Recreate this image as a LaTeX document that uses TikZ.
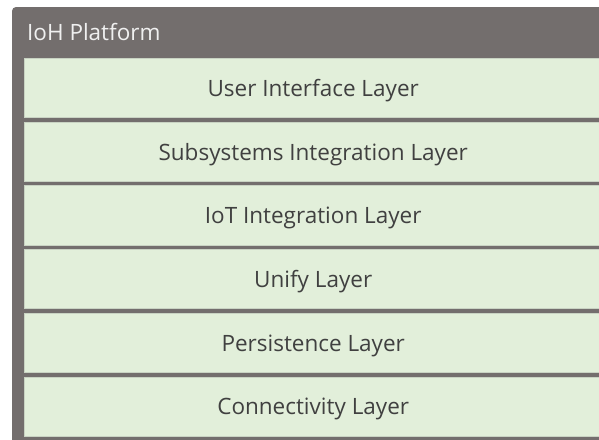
\documentclass[tikz,border=0pt]{standalone}
\usepackage{fontspec}
\setmainfont{Open Sans}
\usetikzlibrary{positioning}
\definecolor{platgray}{HTML}{736E6D}
\definecolor{layergreen}{HTML}{E2EFDA}
\definecolor{layertext}{HTML}{404040}

\begin{document}
\begin{tikzpicture}[
        x=1pt, y=1pt,
        font=\fontsize{22.5}{26}\selectfont,
        node distance=4pt,
        layer/.style={draw=layergreen!75!gray, line width=0.4pt, fill=layergreen, text=layertext,
            inner sep=0pt, text height=20pt, text depth=3pt,
            minimum width=578pt, minimum height=59.3pt}
    ]
        \useasboundingbox (0,0) rectangle (599,-439);
        % platform frame
        \fill[platgray, rounded corners=4pt] (12,-7) rectangle (612,-452);
        \node[anchor=west, inner sep=0pt, text=white!94!black] (title) at (27,-32) {IoH Platform};

        \node[layer, anchor=north west] (ui) at (24,-58) {User Interface Layer};
        \node[layer, below=of ui] (subsys) {Subsystems Integration Layer};
        \node[layer, below=of subsys] (iot) {IoT Integration Layer};
        \node[layer, below=of iot] (unify) {Unify Layer};
        \node[layer, below=of unify] (persist) {Persistence Layer};
        \node[layer, below=of persist] (conn) {Connectivity Layer};
    \end{tikzpicture}
\end{document}
